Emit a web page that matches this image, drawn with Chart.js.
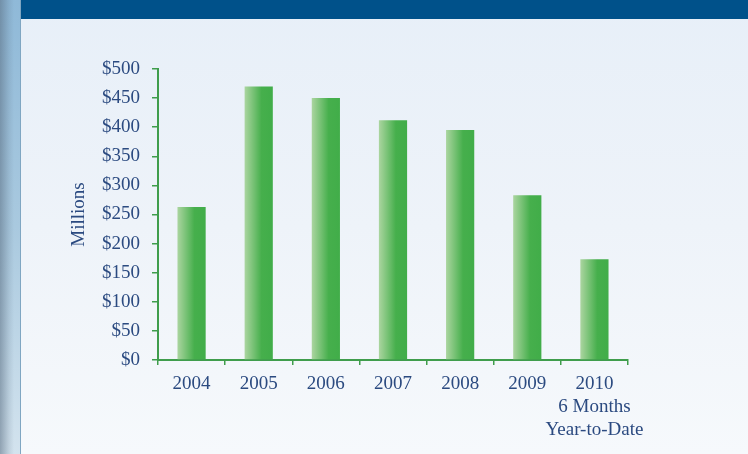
<!DOCTYPE html>
<html>
<head>
<meta charset="utf-8">
<script src="https://cdn.jsdelivr.net/npm/chart.js@4"></script>
<style>
  html, body { margin: 0; padding: 0; }
  body { width: 748px; height: 454px; position: relative; overflow: hidden; }
  #panel {
    position: absolute; left: 21px; top: 0; width: 727px; height: 454px;
    background: linear-gradient(to bottom, #e7eff8 0%, #eef3f9 50%, #f6f9fc 100%);
  }
  #header {
    position: absolute; left: 21px; top: 0; width: 727px; height: 19px;
    background: #00518a;
  }
  #strip {
    position: absolute; left: 0; top: 0; width: 20px; height: 454px;
    background:
      linear-gradient(to right, rgba(90,110,130,0.55) 0%, rgba(90,110,130,0.15) 45%, rgba(255,255,255,0) 70%),
      linear-gradient(to bottom, #8fb9d8 0%, #a9c9df 50%, #d3e3ee 100%);
  }
  #stripEdge {
    position: absolute; left: 20px; top: 0; width: 1px; height: 454px;
    background: #7fa6c2;
  }
  #wrap { position: absolute; left: 0; top: 0; width: 748px; height: 454px; }
</style>
</head>
<body>
<div id="panel"></div>
<div id="header"></div>
<div id="strip"></div>
<div id="stripEdge"></div>
<div id="wrap"><canvas id="chart"></canvas></div>
<script>
// Данни
const years = ['2004', '2005', '2006', '2007', '2008', '2009', ['2010', '6 Months', 'Year-to-Date']];
const amounts = [263, 470, 450, 412, 395, 283, 173];
const yTicks = [0, 50, 100, 150, 200, 250, 300, 350, 400, 450, 500];

const textBlue = '#2b4a80';
const axisGreen = '#3f9d4c';
const barPct = 0.42;

function barGradient(ctx) {
    const chart = ctx.chart;
    const x = chart.scales.x;
    if (!chart.chartArea || !x) return '#45ae4b';
    const c = x.getPixelForValue(ctx.dataIndex);
    const half = (x.width / years.length) * barPct / 2;
    const g = chart.ctx.createLinearGradient(c - half, 0, c + half, 0);
    g.addColorStop(0, '#abd5a0');
    g.addColorStop(0.6, '#46af4c');
    g.addColorStop(1, '#41ad49');
    return g;
}

const font = { family: '"Liberation Serif", "DejaVu Serif", serif', size: 19 };

new Chart(document.getElementById('chart').getContext('2d'), {
    type: 'bar',
    data: {
        labels: years,
        datasets: [{
            data: amounts,
            backgroundColor: barGradient,
            borderWidth: 0,
            categoryPercentage: 1,
            barPercentage: barPct
        }]
    },
    options: {
        responsive: true,
        maintainAspectRatio: false,
        animation: false,
        layout: { padding: { left: 64, top: 69, right: 120, bottom: 0 } },
        plugins: {
            legend: { display: false },
            tooltip: { enabled: false }
        },
        scales: {
            y: {
                min: 0,
                max: 500,
                afterFit: s => { s.width = 94; },
                afterBuildTicks: s => { s.ticks = yTicks.map(v => ({ value: v })); },
                ticks: {
                    color: textBlue,
                    font: font,
                    padding: 12,
                    callback: v => '$' + v
                },
                grid: { drawOnChartArea: false, drawTicks: true, tickLength: 6, tickColor: axisGreen, lineWidth: 1.5 },
                border: { color: axisGreen, width: 2 },
                title: {
                    display: true,
                    text: 'Millions',
                    color: textBlue,
                    font: font,
                    padding: { top: 4, bottom: 4 }
                }
            },
            x: {
                afterFit: s => { s.height = 94; },
                ticks: {
                    color: textBlue,
                    font: font,
                    padding: 8,
                    maxRotation: 0,
                    autoSkip: false
                },
                grid: { offset: true, drawOnChartArea: false, drawTicks: true, tickLength: 5, tickColor: axisGreen, lineWidth: 1.5 },
                border: { color: axisGreen, width: 2 }
            }
        }
    }
});
</script>
</body>
</html>
